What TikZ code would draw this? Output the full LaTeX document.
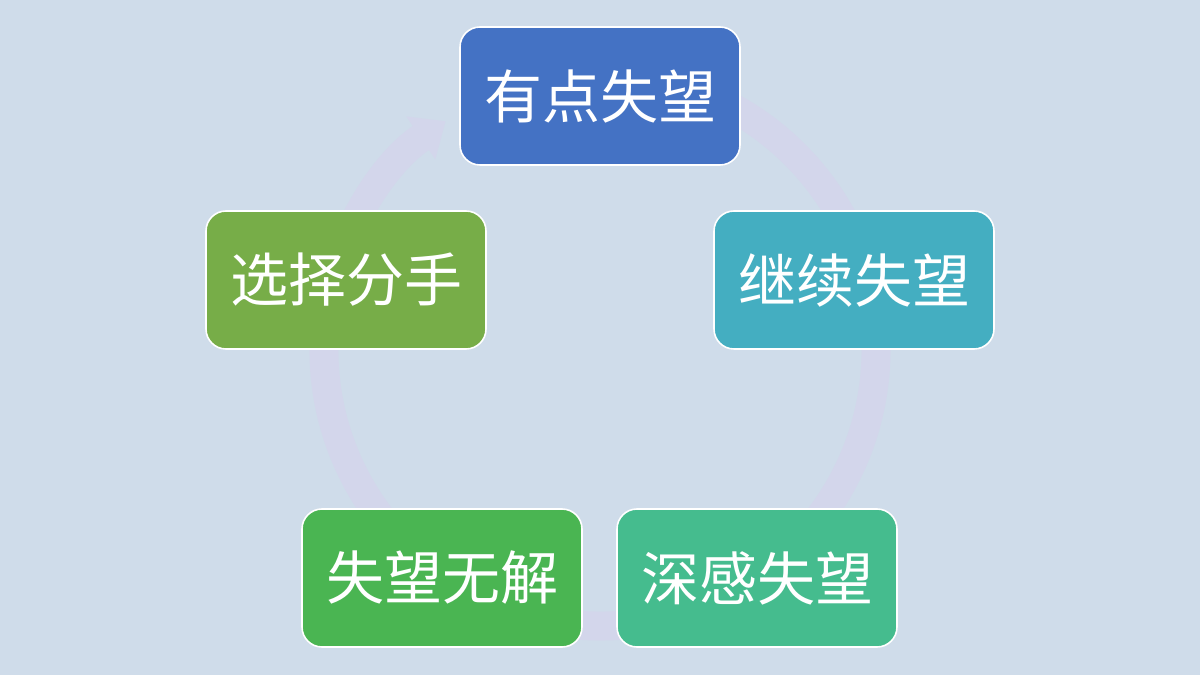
\documentclass[tikz,border=0pt]{standalone}
\usepackage{fontspec}
\newfontfamily\cjk{Noto Sans CJK SC}
\usetikzlibrary{arrows.meta,backgrounds,calc}
\definecolor{bgcol}{HTML}{CFDCEA}
\definecolor{ringcol}{HTML}{D3D6EB}
\definecolor{blueA}{HTML}{4472C4}
\definecolor{tealA}{HTML}{44AEC1}
\definecolor{mintA}{HTML}{45BC8E}
\definecolor{greenA}{HTML}{4AB552}
\definecolor{oliveA}{HTML}{77AD48}
\begin{document}
\begin{tikzpicture}[x=0.5pt,y=0.5pt,
  box/.style={rounded corners=10pt, draw=white, line width=0.8pt, minimum width=140pt, minimum height=69pt, text=white, font=\cjk\fontsize{29}{32}\selectfont},
  ring/.style={draw=ringcol, line width=14.5pt, -{Triangle[length=15pt,width=25pt]}}]
\useasboundingbox (0,0) rectangle (1200,675);
\node [box, fill=blueA] (youdian) at (600,579) {有点失望};
\node [box, fill=tealA] (jixu) at (854,395) {继续失望};
\node [box, fill=mintA] (shengan) at (757,97) {深感失望};
\node [box, fill=greenA] (wujie) at (442,97) {失望无解};
\node [box, fill=oliveA] (fenshou) at (346,395) {选择分手};
\coordinate (hub) at (600,325);
\coordinate (ringstart) at ($(hub)+(80:276)$);
\begin{scope}[on background layer]
\fill [bgcol] (0,0) rectangle (1200,675);
% one continuous ring behind the boxes, ending at the top box
\draw [ring] (ringstart) arc[start angle=80, end angle=-236, radius=276];
\end{scope}
\end{tikzpicture}
\end{document}
